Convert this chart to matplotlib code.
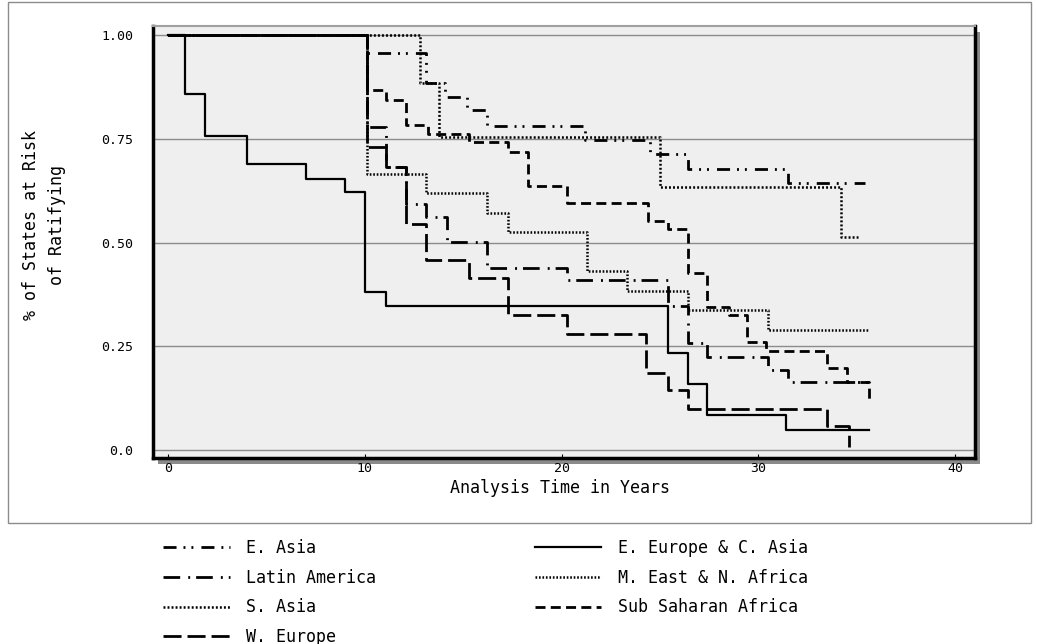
import matplotlib
matplotlib.use("Agg")
import matplotlib.pyplot as plt
from matplotlib.patches import Rectangle

plt.rcParams['font.family'] = ['DejaVu Sans Mono', 'DejaVu Sans']
plt.rcParams['lines.scale_dashes'] = False

# Survival curves (years, share of states still at risk)
ea_t = [0, 10.1, 13.1, 14.1, 15.2, 16.2, 21.2, 24.5, 26.4, 31.5, 35.4]
ea_v = [1.0, 0.958, 0.884, 0.852, 0.819, 0.781, 0.748, 0.713, 0.677, 0.643, 0.643]

eeca_t = [0, 0.9, 1.9, 4.0, 7.0, 9.0, 10.0, 11.1, 25.4, 26.4, 27.4, 31.4, 35.6]
eeca_v = [1.0, 0.857, 0.757, 0.689, 0.653, 0.621, 0.381, 0.348, 0.235, 0.159, 0.084, 0.048, 0.048]

la_t = [0, 10.1, 11.1, 12.1, 13.1, 14.2, 16.2, 20.3, 25.4, 26.4, 27.4, 30.5, 31.5, 35.6]
la_v = [1.0, 0.779, 0.683, 0.594, 0.562, 0.502, 0.440, 0.410, 0.348, 0.257, 0.225, 0.193, 0.165, 0.165]

mena_t = [0, 10.1, 13.1, 16.2, 17.3, 21.3, 23.3, 26.4, 30.5, 35.6]
mena_v = [1.0, 0.665, 0.619, 0.571, 0.526, 0.431, 0.383, 0.337, 0.289, 0.289]

sa_t = [0, 12.8, 13.8, 25.0, 34.2, 35.05]
sa_v = [1.0, 0.884, 0.754, 0.634, 0.513, 0.513]

ssa_t = [0, 10.1, 11.1, 12.1, 13.2, 15.3, 17.3, 18.3, 20.3, 24.4, 25.4, 26.4, 27.4,
         28.5, 29.4, 30.4, 33.5, 34.5, 35.6]
ssa_v = [1.0, 0.867, 0.843, 0.783, 0.762, 0.743, 0.719, 0.637, 0.596, 0.553, 0.533, 0.427, 0.345,
         0.325, 0.260, 0.239, 0.197, 0.163, 0.113]

we_t = [0, 10.1, 11.1, 12.1, 13.1, 15.3, 17.3, 20.3, 24.3, 25.4, 26.4, 33.5, 34.6]
we_v = [1.0, 0.730, 0.683, 0.546, 0.459, 0.414, 0.325, 0.280, 0.187, 0.145, 0.100, 0.058, 0.008]

x_ticks = [0, 10, 20, 30, 40]
y_ticks = [0.0, 0.25, 0.5, 0.75, 1.0]
y_tick_labels = ['0.0', '0.25', '0.50', '0.75', '1.00']

W, H = 1037.0, 644.0


def fx(px):
    return px / W


def fy(py):
    return 1 - py / H


fig = plt.figure(figsize=(W / 100, H / 100), dpi=100)

# outer frame round the whole chart
fig.add_artist(Rectangle((fx(8), fy(523)), fx(1031) - fx(8), fy(2) - fy(523),
                         transform=fig.transFigure, fill=False,
                         edgecolor='#8c8c8c', lw=1, zorder=-2))

left, right, top, bottom = 153, 975, 26, 458
ax = fig.add_axes([fx(left), fy(bottom), fx(right) - fx(left), fy(top) - fy(bottom)])
ax.set_facecolor('#efefef')

# drop shadow behind the plot box
fig.add_artist(Rectangle((fx(left + 5), fy(bottom + 6)), fx(right) - fx(left), fy(top) - fy(bottom),
                         transform=fig.transFigure, facecolor='#8a8a8a',
                         edgecolor='none', zorder=-1))

series = [
    (ea_t, ea_v, 'E. Asia', (0, (9.4, 5, 1.4, 4.3, 1.4, 5.8)), 2.0),
    (la_t, la_v, 'Latin America', (0, (12, 5.8, 1.4, 4.3)), 2.0),
    (sa_t, sa_v, 'S. Asia', (0, (1.4, 1.5)), 1.8),
    (we_t, we_v, 'W. Europe', (0, (13, 4.3)), 2.0),
    (eeca_t, eeca_v, 'E. Europe & C. Asia', '-', 1.6),
    (mena_t, mena_v, 'M. East & N. Africa', (0, (1.2, 1.3)), 1.8),
    (ssa_t, ssa_v, 'Sub Saharan Africa', (0, (7.2, 3.8)), 2.0),
]

for t, v, name, ls, lw in series:
    ax.plot(t, v, drawstyle='steps-post', color='black', linestyle=ls, lw=lw, label=name)

ax.set_xlim(-0.75, 41.0)
ax.set_ylim(-0.019, 1.022)
ax.set_xticks(x_ticks)
ax.set_xticklabels([str(x) for x in x_ticks])
ax.set_yticks(y_ticks)
ax.set_yticklabels(y_tick_labels)
ax.yaxis.grid(True, color='#8c8c8c', lw=1)
ax.set_axisbelow(True)
ax.tick_params(axis='y', length=0, pad=14, labelsize=9.5)
ax.tick_params(axis='x', direction='in', length=3, pad=3, labelsize=9.5)

for side in ['left', 'bottom', 'right']:
    ax.spines[side].set_linewidth(2.5)
    ax.spines[side].set_color('black')
ax.spines['top'].set_linewidth(1.5)
ax.spines['top'].set_color('#a0a0a0')

fig.text(fx(44), fy(225), '% of States at Risk\nof Ratifying', rotation=90,
         ha='center', va='center', multialignment='center', fontsize=12, linespacing=1.5)
fig.text(fx(560), fy(488), 'Analysis Time in Years', ha='center', va='center', fontsize=12)

ax.legend(loc='upper left', bbox_to_anchor=(fx(163), fy(539)), bbox_transform=fig.transFigure,
          ncol=2, frameon=False, fontsize=12, handlelength=4.0, handletextpad=1.0,
          columnspacing=9.5, labelspacing=0.7, borderpad=0, borderaxespad=0)

fig.savefig('out.png', dpi=100)
